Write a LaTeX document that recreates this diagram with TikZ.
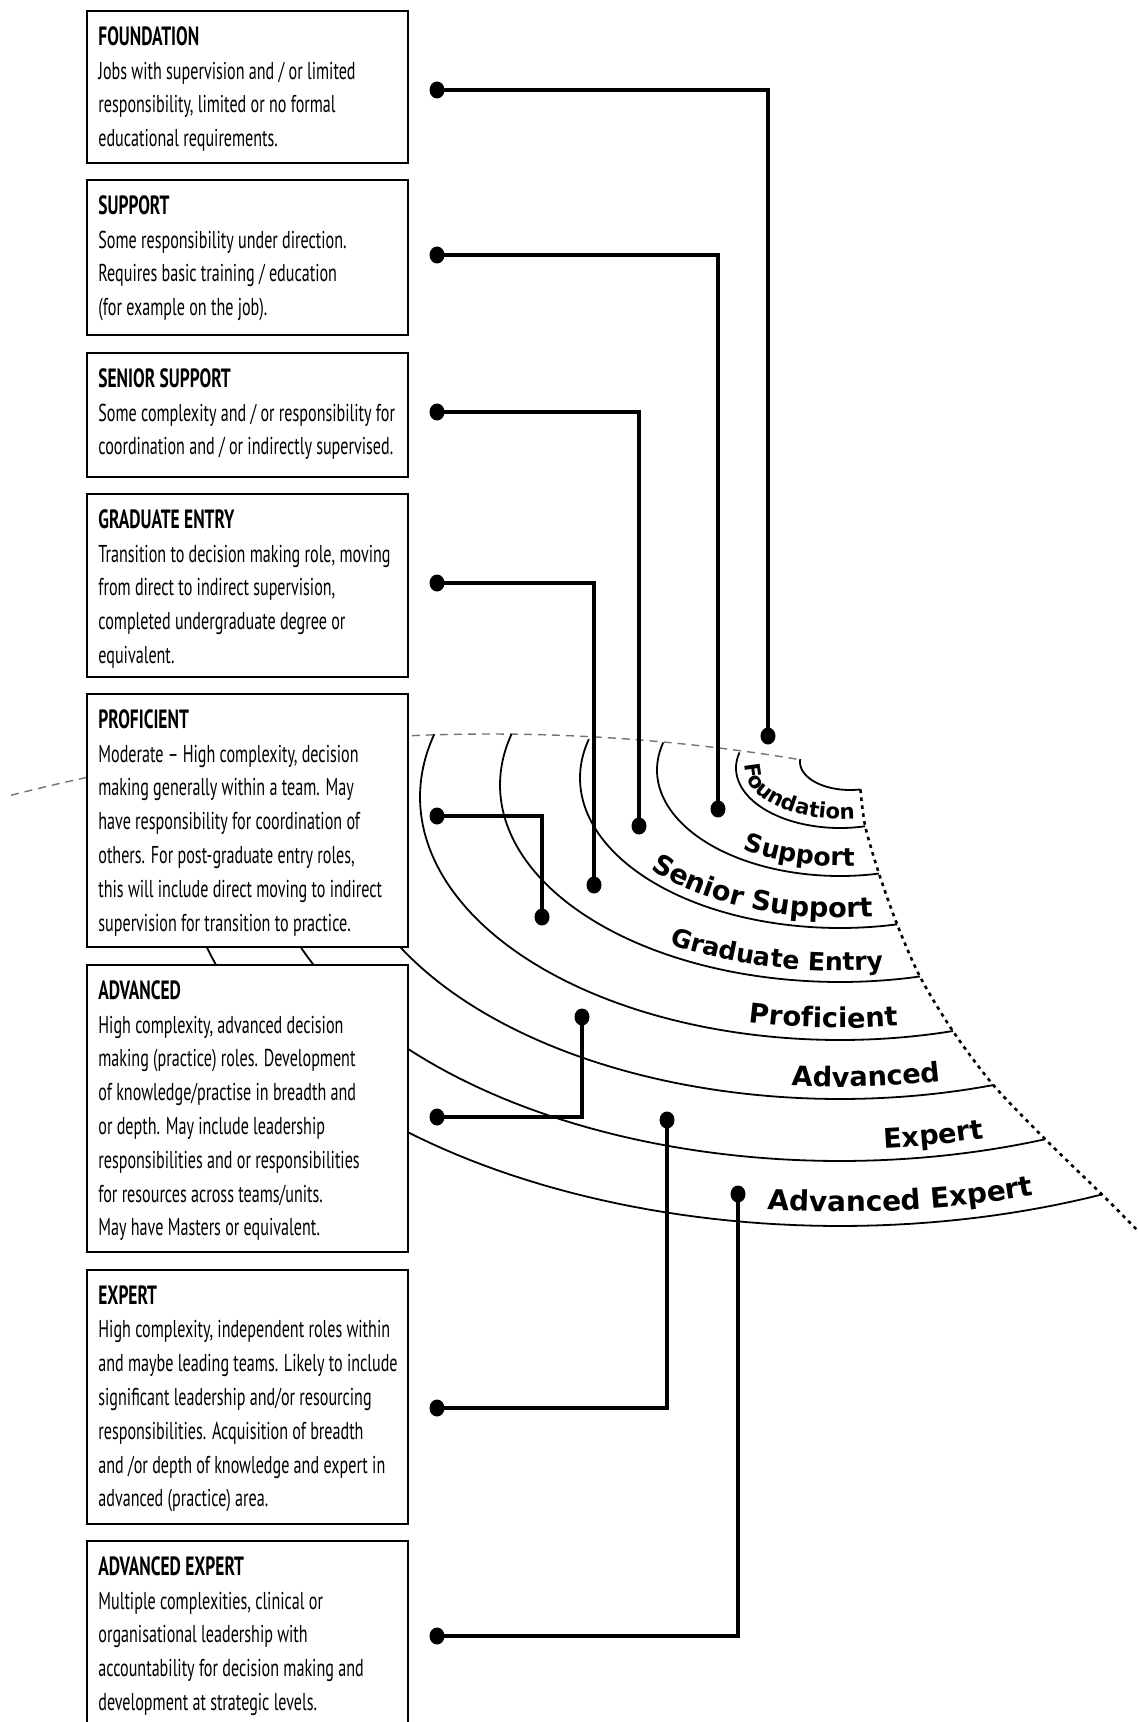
\documentclass[tikz,border=0pt]{standalone}
\usepackage{fontspec}
\usetikzlibrary{shapes.geometric,decorations.text}
\newfontfamily\boxfont[FakeStretch=0.66]{PT Sans}
\newfontfamily\ringfont{DejaVu Sans}
\newcommand{\ringsmall}{\ringfont\bfseries\fontsize{10.6pt}{11pt}\selectfont}
\newcommand{\ringmid}{\ringfont\bfseries\fontsize{12.6pt}{13pt}\selectfont}
\newcommand{\ringbig}{\ringfont\bfseries\fontsize{13.6pt}{14pt}\selectfont}
\newcommand{\ringhuge}{\ringfont\bfseries\fontsize{14pt}{14pt}\selectfont}
\newcommand{\lvlhead}[1]{{\fontsize{13.2pt}{16.9pt}\selectfont\bfseries #1}}
\tikzset{
  lvlbox/.style={draw, line width=1.1pt, fill=white, anchor=north west, outer sep=0pt, inner sep=0pt, minimum width=160.5pt},
  lvltext/.style={anchor=north west, align=left, inner sep=0pt, font={\boxfont\fontsize{12.2pt}{16.9pt}\selectfont}},
  blob/.style={ellipse, fill=black, inner sep=0pt, minimum width=7.5pt, minimum height=8.5pt},
  link/.style={line width=1.8pt},
  ring/.style={line width=0.9pt},
  rim/.style={line width=1.3pt, dash pattern=on 1.8pt off 2.2pt},
  crest/.style={line width=0.7pt, black!55, dash pattern=on 4pt off 3pt},
}
\begin{document}
\begin{tikzpicture}[x=0.5pt,y=-0.5pt]
\useasboundingbox (0,0) rectangle (1137,1722);
\clip (0,0) rectangle (1137,1722);
\fill[white] (0,0) rectangle (1137,1722);
% fan of levels
\draw[crest] plot[domain=11:800, samples=60] (\x, {734+267*((\x-490)/1000)^2});
\draw[ring] plot[variable=\t, domain=186:78, samples=40] ({850+50*cos(\t)}, {762+28*sin(\t)});
\foreach \rx/\ry/\cy/\te in {104/60/768/76, 183/106/770/77.7, 260/150/778/77.3, 340/197/785/76.4, 420/243/797/74.4, 499/288/811/72.1, 578/334/827/69.2, 657/380/846/66.5}
  \draw[ring] plot[variable=\t, domain=195:\te, samples=90] ({840+\rx*cos(\t)}, {\cy+\ry*sin(\t)});
\path[decorate, decoration={text along path, text={|\ringsmall|Foundation}, text align={right, right indent=4pt}}]
  plot[variable=\t, domain=195:76, samples=90] ({840+95*cos(\t)}, {768+51*sin(\t)});
\path[decorate, decoration={text along path, text={|\ringmid|Support}, text align={right, right indent=11pt}}]
  plot[variable=\t, domain=195:77.7, samples=90] ({840+173*cos(\t)}, {770+96*sin(\t)});
\path[decorate, decoration={text along path, text={|\ringbig|Senior Support}, text align={right, right indent=11pt}}]
  plot[variable=\t, domain=195:77.3, samples=90] ({840+250*cos(\t)}, {778+140*sin(\t)});
\path[decorate, decoration={text along path, text={|\ringmid|Graduate Entry}, text align={right, right indent=17pt}}]
  plot[variable=\t, domain=195:76.4, samples=90] ({840+329*cos(\t)}, {785+186*sin(\t)});
\path[decorate, decoration={text along path, text={|\ringbig|Proficient}, text align={right, right indent=26pt}}]
  plot[variable=\t, domain=195:74.4, samples=90] ({840+408*cos(\t)}, {797+231*sin(\t)});
\path[decorate, decoration={text along path, text={|\ringbig|Advanced}, text align={right, right indent=24.5pt}}]
  plot[variable=\t, domain=195:72.1, samples=90] ({840+487*cos(\t)}, {811+276*sin(\t)});
\path[decorate, decoration={text along path, text={|\ringbig|Expert}, text align={right, right indent=29pt}}]
  plot[variable=\t, domain=195:69.2, samples=90] ({840+566*cos(\t)}, {827+322*sin(\t)});
\path[decorate, decoration={text along path, text={|\ringhuge|Advanced Expert}, text align={right, right indent=32pt}}]
  plot[variable=\t, domain=195:66.5, samples=90] ({840+643*cos(\t)}, {846+366*sin(\t)});
\draw[rim] plot[smooth] coordinates {(860.4,789.4) (865.2,826.2) (879,873.6) (897.1,924.3) (919.9,976.5) (952.9,1031.1) (993.4,1085.1) (1045.2,1139.2) (1102,1194.5) (1140,1233)};
% level boxes
\node[lvlbox, minimum height=76pt] (fnd) at (87,11) {};
\node[lvltext] (fnd-txt) at ([xshift=5.5pt,yshift=-7.5pt]fnd.north west) {\lvlhead{FOUNDATION}\\Jobs with supervision and / or limited\\responsibility, limited or no formal\\educational requirements.};
\node[lvlbox, minimum height=77.5pt] (sup) at (87,180) {};
\node[lvltext] (sup-txt) at ([xshift=5.5pt,yshift=-7.5pt]sup.north west) {\lvlhead{SUPPORT}\\Some responsibility under direction.\\Requires basic training / education\\(for example on the job).};
\node[lvlbox, minimum height=62pt] (ssp) at (87,353) {};
\node[lvltext] (ssp-txt) at ([xshift=5.5pt,yshift=-7.5pt]ssp.north west) {\lvlhead{SENIOR SUPPORT}\\Some complexity and / or responsibility for\\coordination and / or indirectly supervised.};
\node[lvlbox, minimum height=91.5pt] (gre) at (87,494) {};
\node[lvltext] (gre-txt) at ([xshift=5.5pt,yshift=-7.5pt]gre.north west) {\lvlhead{GRADUATE ENTRY}\\Transition to decision making role, moving\\from direct to indirect supervision,\\completed undergraduate degree or\\equivalent.};
\node[lvlbox, minimum height=126.5pt] (prf) at (87,694) {};
\node[lvltext] (prf-txt) at ([xshift=5.5pt,yshift=-7.5pt]prf.north west) {\lvlhead{PROFICIENT}\\Moderate – High complexity, decision\\making generally within a team.  May\\have responsibility for coordination of\\others.  For post-graduate entry roles,\\this will include direct moving to indirect\\supervision for transition to practice.};
\node[lvlbox, minimum height=143.5pt] (adv) at (87,965) {};
\node[lvltext] (adv-txt) at ([xshift=5.5pt,yshift=-7.5pt]adv.north west) {\lvlhead{ADVANCED}\\High complexity, advanced decision\\making (practice) roles.  Development\\of knowledge/practise in breadth and\\or depth.  May include leadership\\responsibilities and or responsibilities\\for resources across teams/units.\\May have Masters or equivalent.};
\node[lvlbox, minimum height=127pt] (exp) at (87,1270) {};
\node[lvltext] (exp-txt) at ([xshift=5.5pt,yshift=-7.5pt]exp.north west) {\lvlhead{EXPERT}\\High complexity, independent roles within\\and maybe leading teams.  Likely to include\\significant leadership and/or resourcing\\responsibilities.  Acquisition of breadth\\and /or depth of knowledge and expert in\\advanced (practice) area.};
\node[lvlbox, minimum height=115pt] (axp) at (87,1541) {};
\node[lvltext] (axp-txt) at ([xshift=5.5pt,yshift=-7.5pt]axp.north west) {\lvlhead{ADVANCED EXPERT}\\Multiple complexities, clinical or\\organisational leadership with\\accountability for decision making and\\development at strategic levels.};
% connectors
\foreach \nm/\ya/\xb/\yb in {fnd/90/768/736, sup/255/718/809, ssp/412/639/826, gre/583/594/885, prf/816/542/917, adv/1117/582/1017, exp/1408/667/1120, axp/1636/738/1194} {
  \node[blob] (\nm-l) at (437,\ya) {};
  \node[blob] (\nm-r) at (\xb,\yb) {};
  \draw[link] (\nm-l.center) -| (\nm-r.center);
}
\end{tikzpicture}
\end{document}
